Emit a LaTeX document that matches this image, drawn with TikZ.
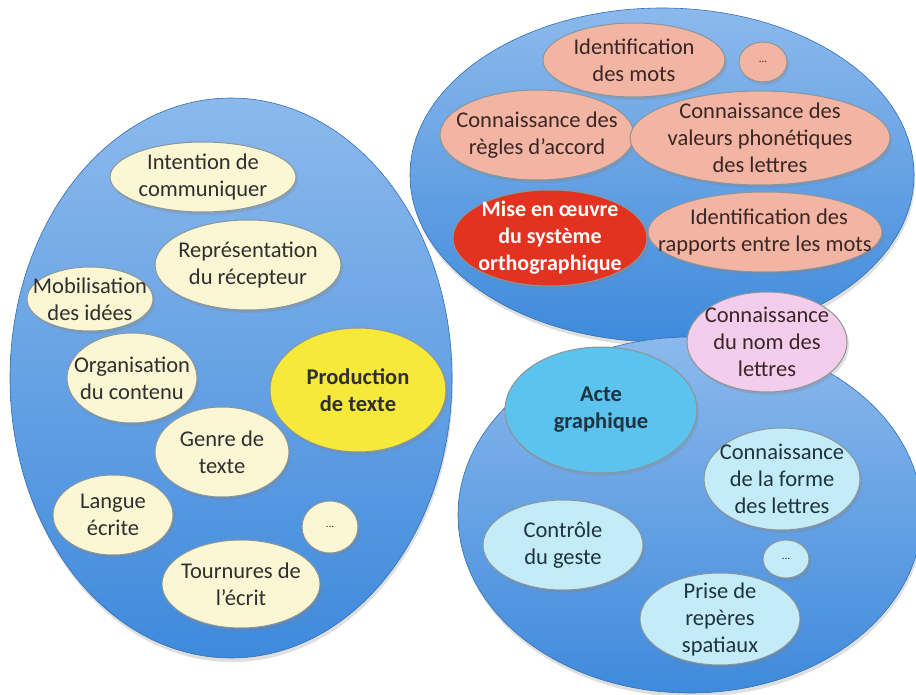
\documentclass[tikz,border=0pt]{standalone}
\usepackage{fontspec}
\setmainfont{Carlito}
\usetikzlibrary{shapes.geometric,shadows}
\definecolor{bigtop}{HTML}{8CB9EC}
\definecolor{bigbot}{HTML}{3F8ADC}
\definecolor{cream}{HTML}{FBF6D3}
\definecolor{yel}{HTML}{F6E93A}
\definecolor{salmon}{HTML}{F3B5A3}
\definecolor{redb}{HTML}{E3321F}
\definecolor{pinkb}{HTML}{F4CDEC}
\definecolor{acte}{HTML}{5CC2EE}
\definecolor{cyanb}{HTML}{C4ECF8}
\definecolor{edge}{HTML}{8C9696}
\definecolor{ink}{HTML}{2F2F2F}
\definecolor{inkb}{HTML}{3A2624}
\definecolor{inkc}{HTML}{1E3340}
\tikzset{
  bigell/.style={ellipse, inner sep=0pt, draw=bigbot!80!black, line width=0.6pt,
    top color=bigtop, bottom color=bigbot,
    drop shadow={opacity=0.25, shadow xshift=1pt, shadow yshift=-4pt}},
  bub/.style={ellipse, inner sep=0pt, draw=edge, line width=1pt,
    drop shadow={opacity=0.25, shadow xshift=2pt, shadow yshift=-3pt}},
  txt/.style={align=center, font=\fontsize{22.5}{27}\selectfont, text=ink, inner sep=0pt},
}
\newcommand{\bubble}[6]{%
  \node[bub, fill=#5, minimum width={2*#3}, minimum height={2*#4}] (#1) at (#2) {};
  \node[txt] (#1t) at (#1) {#6};}
\newcommand{\redl}{\color{white}\bfseries\fontsize{22}{25}\selectfont}
\begin{document}
\begin{tikzpicture}[x=1pt,y=-1pt]
\useasboundingbox (0,0) rectangle (916,695);
% big ellipses
\node[bigell, minimum width=442pt, minimum height=560pt] (left) at (231,378) {};
\node[bigell, minimum width=504pt, minimum height=334pt] (topr) at (662,175) {};
\node[bigell, minimum width=464pt, minimum height=356pt] (botr) at (690,515) {};
% left group
\bubble{intent}{203,177}{93pt}{35pt}{cream}{Intention de\\communiquer}
\bubble{repr}{248,265}{93pt}{45pt}{cream}{Représentation\\du récepteur}
\bubble{mobil}{90,299}{63pt}{32pt}{cream}{Mobilisation\\des idées}
\bubble{organ}{132,378}{65pt}{45pt}{cream}{Organisation\\du contenu}
\bubble{prod}{358,390}{88pt}{62pt}{yel}{\textbf{Production}\\\textbf{de texte}}
\bubble{genre}{222,452}{67pt}{45pt}{cream}{Genre de\\texte}
\bubble{langue}{113,515}{60pt}{40pt}{cream}{Langue\\écrite}
\bubble{dotsl}{330,527}{28pt}{26pt}{cream}{\fontsize{11}{13}\selectfont ...}
\bubble{tourn}{241,584}{79pt}{44pt}{cream}{Tournures de\\l’écrit}
% top right group
\bubble{idmots}{634,60}{91pt}{37pt}{salmon}{\color{inkb}Identification\\\color{inkb}des mots}
\bubble{dotst}{763,62}{24pt}{20pt}{salmon}{\fontsize{11}{13}\selectfont ...}
\bubble{regles}{537,135}{97pt}{45pt}{salmon}{\color{inkb}Connaissance des\\\color{inkb}règles d’accord}
\bubble{valeurs}{760,138}{130pt}{47pt}{salmon}{\color{inkb}Connaissance des\\\color{inkb}valeurs phonétiques\\\color{inkb}des lettres}
\bubble{mise}{550,238}{97pt}{48pt}{redb}{\redl Mise en œuvre\\\redl du système\\\redl orthographique}
\bubble{rapp}{765,232}{117pt}{40pt}{salmon}{\color{inkb}\hspace*{8pt}Identification des\\\color{inkb}rapports entre les mots}
\bubble{nom}{767,342}{80pt}{50pt}{pinkb}{\color{inkb}Connaissance\\\color{inkb}du nom des\\\color{inkb}lettres}
% bottom right group
\bubble{acte}{601,410}{96pt}{63pt}{acte}{\color{inkc}\textbf{Acte}\\\color{inkc}\textbf{graphique}}
\bubble{forme}{782,479}{78pt}{51pt}{cyanb}{\color{inkc}Connaissance\\\color{inkc}de la forme\\\color{inkc}des lettres}
\bubble{geste}{563,545}{80pt}{45pt}{cyanb}{\color{inkc}Contrôle\\\color{inkc}du geste}
\bubble{dotsb}{786,559}{23pt}{19pt}{cyanb}{\fontsize{11}{13}\selectfont ...}
\bubble{prise}{720,619}{80pt}{46pt}{cyanb}{\color{inkc}Prise de\\\color{inkc}repères\\\color{inkc}spatiaux}
\end{tikzpicture}
\end{document}
